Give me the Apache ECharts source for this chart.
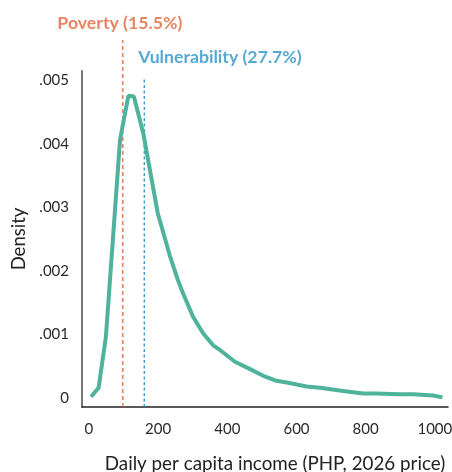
<!DOCTYPE html>
<html><head><meta charset="utf-8">
<script src="https://cdn.jsdelivr.net/npm/echarts@6/dist/echarts.min.js"></script>
<style>html,body{margin:0;padding:0;background:#fff}#c{width:452px;height:472px}</style>
</head><body><div id="c"></div>
<script>
// Data
const income = [6, 28, 49, 90, 114, 130, 157, 199, 234, 257, 272, 301, 330, 359, 378, 422, 460, 504, 542, 576, 629, 668, 735, 793, 831, 899, 937, 995, 1022];
const density = [0.00002, 0.00016, 0.00096, 0.00407, 0.00476, 0.00475, 0.00417, 0.00291, 0.00224, 0.00186, 0.00165, 0.00128, 0.00102, 0.00083, 0.00076, 0.00057, 0.00047, 0.00035, 0.00027, 0.00024, 0.00018, 0.00016, 0.00011, 0.00007, 0.00007, 0.00006, 0.00006, 0.00004, 0.00001];
const yTicks = [0, 0.001, 0.002, 0.003, 0.004, 0.005];
const xTicks = [0, 200, 400, 600, 800, 1000];
const povertyLine = 98, povertyLabel = 'Poverty (15.5%)';
const vulnLine = 160, vulnLabel = 'Vulnerability (27.7%)';

const FONT = 'Lato';
const yMin = -0.000142, yMax = 0.00515, yMax2 = 0.005641, vulnTop = 0.005058;
const xMin = -20, xMax = 1038;

const chart = echarts.init(document.getElementById('c'));
chart.setOption({
  animation: false,
  textStyle: { fontFamily: FONT },
  grid: [
    { left: 82, right: 4, top: 71, bottom: 65, outerBoundsMode: 'none', containLabel: false },
    { left: 82, right: 4, top: 40, bottom: 65, outerBoundsMode: 'none', containLabel: false }
  ],
  xAxis: [{
    gridIndex: 0, type: 'value', min: xMin, max: xMax,
    splitLine: { show: false }, axisTick: { show: false },
    axisLine: { onZero: false, lineStyle: { color: '#222', width: 1.5 } },
    axisLabel: { customValues: xTicks, color: '#2a2a2a', fontSize: 15, margin: 15, fontFamily: FONT,
      formatter: v => String(v) },
    name: 'Daily per capita income (PHP, 2026 price)', nameLocation: 'middle', nameGap: 47,
    nameTextStyle: { fontSize: 18.8, color: '#222', fontFamily: FONT, padding: [0, 0, 0, 20] }
  }, {
    gridIndex: 1, type: 'value', min: xMin, max: xMax, show: false
  }],
  yAxis: [{
    gridIndex: 0, type: 'value', min: yMin, max: yMax,
    splitLine: { show: false }, axisTick: { show: false },
    axisLine: { show: true, onZero: false, lineStyle: { color: '#777', width: 2 } },
    axisLabel: { customValues: yTicks, color: '#2a2a2a', fontSize: 15, margin: 13, fontFamily: FONT,
      formatter: v => v === 0 ? '0' : String(+v.toFixed(3)).replace(/^0/, '') },
    name: 'Density', nameLocation: 'middle', nameGap: 52,
    nameTextStyle: { fontSize: 18.5, color: '#222', fontFamily: FONT }
  }, {
    gridIndex: 1, type: 'value', min: yMin, max: yMax2, show: false
  }],
  series: [{
    type: 'line', xAxisIndex: 0, yAxisIndex: 0, symbol: 'none',
    lineStyle: { color: '#4fb39b', width: 4 },
    data: income.map((x, i) => [x, density[i]]), z: 3
  }, {
    type: 'line', xAxisIndex: 1, yAxisIndex: 1, symbol: 'none', silent: true,
    lineStyle: { color: '#e0673d', width: 1.3, type: [4, 3] },
    data: [[povertyLine, yMin], [povertyLine, yMax2]], z: 2
  }, {
    type: 'line', xAxisIndex: 1, yAxisIndex: 1, symbol: 'none', silent: true,
    lineStyle: { color: '#2a93c8', width: 1.3, type: [3, 2.5] },
    data: [[vulnLine, yMin], [vulnLine, vulnTop]], z: 2
  }, {
    type: 'scatter', xAxisIndex: 1, yAxisIndex: 1, symbolSize: 0, silent: true,
    data: [{
      value: [povertyLine, yMax2],
      label: { show: true, position: 'top', distance: 8, offset: [-3, 0], formatter: povertyLabel,
        color: '#e0673d', fontSize: 17.7, fontWeight: 'bold', fontFamily: FONT }
    }, {
      value: [vulnLine, vulnTop],
      label: { show: true, position: 'top', distance: 11, align: 'left', offset: [-6, 0], formatter: vulnLabel,
        color: '#2a93c8', fontSize: 17.7, fontWeight: 'bold', fontFamily: FONT }
    }]
  }]
});
</script></body></html>
